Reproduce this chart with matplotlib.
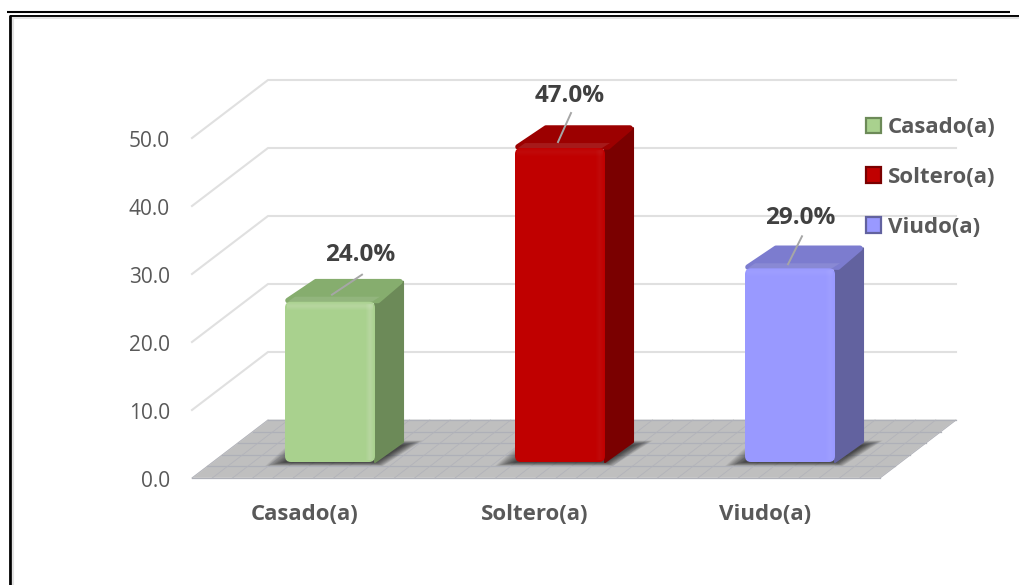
#!/usr/bin/env python3
"""Faux 3D bar chart of marital status shares."""

import matplotlib

matplotlib.use("Agg")

import matplotlib.pyplot as plt
from matplotlib.colors import to_rgb
from matplotlib.lines import Line2D
from matplotlib.patches import FancyBboxPatch, Patch, Polygon, Rectangle

categories = ["Casado(a)", "Soltero(a)", "Viudo(a)"]
values = [24.0, 47.0, 29.0]
value_labels = ["24.0%", "47.0%", "29.0%"]
ticks = [0, 10, 20, 30, 40, 50]
tick_labels = ["0.0", "10.0", "20.0", "30.0", "40.0", "50.0"]
front_colors = ["#A9D18E", "#C00000", "#9999FF"]
top_colors = ["#86AD6E", "#9C0000", "#7C7CCF"]
side_colors = ["#6C8A58", "#7A0000", "#62629F"]
shine = [0.04, 0.012, 0.02]

W, H = 1020, 585
TEXT = "#595959"
FONT = "Open Sans"

plt.rcParams["font.family"] = [FONT, "DejaVu Sans"]

# pixels per category / per value unit, both planes share the category scale
PX_CAT = 230.0
PX_WALL = 6.8
PX_BAR = 6.68
CAT0 = 330.0
WALL_BASE = 478.0
BAR_BASE = 462.0


def make_axes(fig, base, px_val):
    ax = fig.add_axes([0, 0, 1, 1], facecolor="none")
    ax.set_xlim(-CAT0 / PX_CAT, (W - CAT0) / PX_CAT)
    ax.set_ylim((base - H) / px_val, base / px_val)
    ax.axis("off")
    return ax


def tint(color, amount):
    r = to_rgb(color)
    if amount >= 0:
        return tuple(c + (1 - c) * amount for c in r)
    return tuple(c * (1 + amount) for c in r)


fig = plt.figure(figsize=(W / 100, H / 100), dpi=100, facecolor="white")
wall = make_axes(fig, WALL_BASE, PX_WALL)
bars = make_axes(fig, BAR_BASE, PX_BAR)

# outer frame lines, figure coordinates
def frame(x0, y0, x1, y1, lw, color="black"):
    fig.add_artist(Line2D([x0 / W, x1 / W], [1 - y0 / H, 1 - y1 / H], color=color, lw=lw, solid_capstyle="butt"))


frame(7, 12, 1010, 12, 1.5)
frame(10, 15.5, 1020, 15.5, 1.4)
frame(10, 15, 10, 585, 2.0)
frame(12.5, 18, 1020, 18, 1.5, "#E2E2E2")
frame(12.8, 17, 12.8, 585, 1.5, "#E2E2E2")

# back wall and floor
left = (192 - CAT0) / PX_CAT
right = (880 - CAT0) / PX_CAT
dx = 76 / PX_CAT
dy = 58 / PX_WALL
for t in ticks[1:]:
    wall.plot([left, left + dx, right + dx], [t, t + dy, t + dy], color="#E0E0E0", lw=1.5, zorder=1)

wall.add_patch(Polygon([(left, 0), (right, 0), (right + dx, dy), (left + dx, dy)],
                       facecolor="#BFBFBF", edgecolor="#D4D4D4", lw=0.8, zorder=2))
rows = 5
for i in range(rows + 1):
    f = i / rows
    wall.plot([left + dx * f, right + dx * f], [dy * f, dy * f], color="#AEB0B8", lw=0.9, zorder=3)
cols = 34
for i in range(cols + 1):
    x = left + (right - left) * i / cols
    wall.plot([x, x + dx], [0, dy], color="#B2B3BA", lw=0.6, zorder=3)

for t, label in zip(ticks, tick_labels):
    wall.text((170 - CAT0) / PX_CAT, t - 0.45, label, ha="right", va="center", color=TEXT, fontsize=15)

# bars with depth, top and side faces as polygons
half = 45 / PX_CAT
bx = 28 / PX_CAT
by = 22 / PX_BAR
bevel_x = 5 / PX_CAT
bevel_y = 5 / PX_BAR
aspect = PX_CAT / PX_BAR
inset_x = 3 / PX_CAT
inset_y = 2 / PX_BAR

for i, v in enumerate(values):
    x0, x1 = i - half, i + half
    # soft shadow on the floor
    for g in range(20, 0, -1):
        gx, gy = g / PX_CAT, g * 0.5 / PX_BAR
        bars.add_patch(Polygon([(x0 - gx, -gy * 0.4), (x1 + gx * 0.4, -gy * 0.4),
                                (x1 + bx + gx, by * 0.75 + gy * 0.5), (x0 + bx - gx, by * 0.75 + gy * 0.5)],
                               facecolor="black", edgecolor="none", alpha=0.045, zorder=4))
    bars.add_patch(Polygon([(x1, 0), (x1 + bx, by - inset_y), (x1 + bx, v + by - inset_y), (x1, v)],
                           facecolor=side_colors[i], edgecolor=side_colors[i], lw=1.5, joinstyle="round", zorder=5))
    bars.add_patch(Polygon([(x0 + inset_x, v + inset_y * 0.6), (x1 + inset_x, v + inset_y * 0.6),
                            (x1 + bx - inset_x, v + by - inset_y), (x0 + bx + inset_x, v + by - inset_y)],
                           facecolor=top_colors[i], edgecolor=top_colors[i], lw=4, joinstyle="round", zorder=5))
    # bevel between top and front
    bars.add_patch(Polygon([(x0 + inset_x, v), (x1 - inset_x, v), (x1 + bevel_x, v + bevel_y), (x0 + bevel_x * 2, v + bevel_y)],
                           facecolor=tint(top_colors[i], 0.1), edgecolor="none", zorder=5))
    r = 6 / PX_CAT
    bars.add_patch(FancyBboxPatch((x0, 0), x1 - x0, v, boxstyle=f"round,pad=0,rounding_size={r}",
                                  mutation_aspect=aspect, facecolor=front_colors[i], edgecolor="none", zorder=6))
    # soft highlights along the right and top of the front face
    for w in (8, 6, 4, 2):
        bars.add_patch(Rectangle((x1 - (5 + w / 2) / PX_CAT, 2 / PX_BAR), w / PX_CAT, v - 4 / PX_BAR,
                                 facecolor="white", edgecolor="none", alpha=shine[i], zorder=7))
        bars.add_patch(Rectangle((x0 + 2 / PX_CAT, v - (4 + w / 2) / PX_BAR), x1 - x0 - 4 / PX_CAT, w / PX_BAR,
                                 facecolor="white", edgecolor="none", alpha=shine[i], zorder=7))

# leader lines, offsets from the bar top in pixels
leader_from = [(2, 7), (-2, 6), (-2, 4)]
leader_to = [(32, 27), (11, 35), (12, 32)]
label_offset = [(30, 47), (10, 52), (10, 50)]
for i, v in enumerate(values):
    (ax_, ay_), (bx_, by_) = leader_from[i], leader_to[i]
    bars.plot([i + ax_ / PX_CAT, i + bx_ / PX_CAT], [v + ay_ / PX_BAR, v + by_ / PX_BAR],
              color="#A6A6A6", lw=1.4, zorder=8)
    ox, oy = label_offset[i]
    bars.text(i + ox / PX_CAT, v + oy / PX_BAR, value_labels[i], ha="center", va="center",
              color="#404040", fontsize=17.5, fontweight="bold", zorder=9)

for i, c in enumerate(categories):
    wall.text(i - 25 / PX_CAT, (WALL_BASE - 515) / PX_WALL, c, ha="center", va="center",
              color=TEXT, fontsize=16, fontweight="bold")

handles = [Patch(facecolor=f, edgecolor=s, lw=1.6) for f, s in zip(front_colors, side_colors)]
leg = bars.legend(handles, categories, loc="upper left", bbox_to_anchor=(866 / W, 1 - 117 / H),
                  frameon=False, handlelength=0.68, handleheight=0.68, handletextpad=0.3,
                  labelspacing=1.3, borderpad=0, borderaxespad=0,
                  prop={"size": 16, "weight": "bold"}, labelcolor=TEXT)
leg.set_zorder(10)

fig.savefig("out.png", dpi=100)
